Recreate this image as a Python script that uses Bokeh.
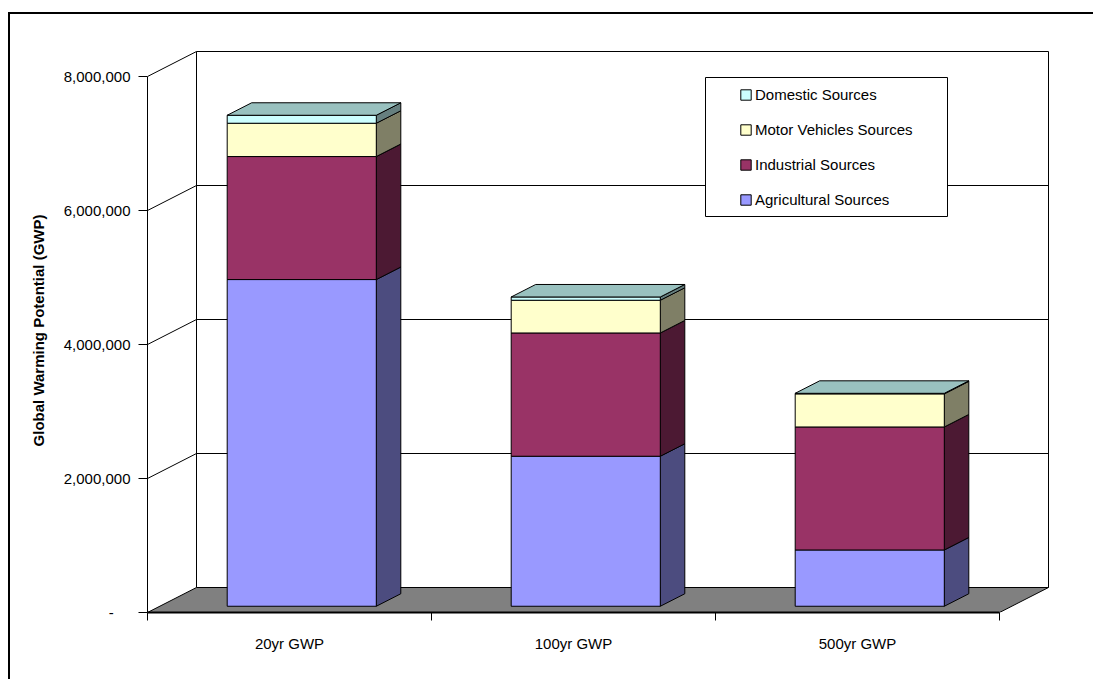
from bokeh.plotting import figure
from bokeh.models import (Range1d, FixedTicker, NumeralTickFormatter, Legend,
                          LegendItem, BoxAnnotation, ColumnDataSource, InlineStyleSheet)
from bokeh.embed import file_html
from bokeh.resources import INLINE

# ---------------- data ----------------
categories = ["20yr GWP", "100yr GWP", "500yr GWP"]
series_names = ["Agricultural Sources", "Industrial Sources",
                "Motor Vehicles Sources", "Domestic Sources"]
agricultural = [4876000, 2239000, 840000]
industrial = [1836000, 1840000, 1836000]
motor_vehicles = [497000, 488000, 494000]
domestic = [119000, 49000, 8000]
y_ticks = [0, 2000000, 4000000, 6000000, 8000000]
y_label = "Global Warming Potential (GWP)"

# ---------------- style ----------------
front_colors = ["#9999FF", "#993366", "#FFFFCC", "#CCFFFF"]
side_colors = ["#4C4C7F", "#4C1933", "#7F7F66", "#667F7F"]
top_color = "#99C1BF"
FONT = "Liberation Sans"

n = len(categories)
Y_MAX = y_ticks[-1]
PX_X = 284.0          # px per category
PX_Y = 67.0 / 1e6     # px per unit value
DX = 49 / PX_X        # depth offset (category units)
DY = 25 / PX_Y        # depth offset (value units)
BAR_W = 0.525
FRAME_W, FRAME_H = 903, 564

p = figure(width=1093, height=679,
           x_range=Range1d(0, FRAME_W / PX_X), y_range=Range1d(0, FRAME_H / PX_Y),
           output_backend="svg", toolbar_location=None,
           min_border_left=147, min_border_right=1093 - 147 - FRAME_W,
           min_border_top=48, min_border_bottom=679 - 48 - FRAME_H)
p.xgrid.visible = False
p.ygrid.visible = False
p.outline_line_color = None
p.background_fill_color = "white"
p.border_fill_color = "white"

# floor
p.patch([0, n, n + DX, DX], [0, 0, DY, DY], fill_color="#808080",
        line_color="black", line_width=1)

# back wall gridlines and edges
grid_vals = y_ticks[1:-1]
p.segment(x0=[DX] * len(grid_vals), y0=[v + DY for v in grid_vals],
          x1=[n + DX] * len(grid_vals), y1=[v + DY for v in grid_vals],
          line_color="black", line_width=1)
p.segment(x0=[DX, n + DX, DX], y0=[DY, DY, Y_MAX + DY],
          x1=[DX, n + DX, n + DX], y1=[Y_MAX + DY, Y_MAX + DY, Y_MAX + DY],
          line_color="black", line_width=1)
# side wall diagonals
diag = y_ticks[1:]
p.segment(x0=[0] * len(diag), y0=diag, x1=[DX] * len(diag),
          y1=[v + DY for v in diag], line_color="black", line_width=1)

# bars
series = [agricultural, industrial, motor_vehicles, domestic]
centers = [i + 0.5 + 0.25 * DX for i in range(n)]
lefts = [c - BAR_W / 2 for c in centers]
rights = [c + BAR_W / 2 for c in centers]
bottoms = [0] * n
front_renderers = []
for s, vals in enumerate(series):
    tops = [b + v for b, v in zip(bottoms, vals)]
    fb = [b + 0.25 * DY for b in bottoms]
    ft = [t + 0.25 * DY for t in tops]
    # side faces
    xs = [[r, r + 0.5 * DX, r + 0.5 * DX, r] for r in rights]
    ys = [[b, b + 0.5 * DY, t + 0.5 * DY, t] for b, t in zip(fb, ft)]
    p.patches(xs, ys, fill_color=side_colors[s], line_color="black", line_width=1)
    src = ColumnDataSource(dict(left=lefts, right=rights, bottom=fb, top=ft))
    r = p.quad(left="left", right="right", bottom="bottom", top="top", source=src,
               fill_color=front_colors[s], line_color="black", line_width=1)
    front_renderers.append(r)
    bottoms = tops

# top faces
ftop = [t + 0.25 * DY for t in bottoms]
xs = [[l, r, r + 0.5 * DX, l + 0.5 * DX] for l, r in zip(lefts, rights)]
ys = [[t, t, t + 0.5 * DY, t + 0.5 * DY] for t in ftop]
p.patches(xs, ys, fill_color=top_color, line_color="black", line_width=1)

# axes
xa = p.xaxis[0]
xa.ticker = FixedTicker(ticks=[i + 0.5 for i in range(n)], minor_ticks=list(range(n + 1)))
xa.major_label_overrides = {i + 0.5: c for i, c in enumerate(categories)}
xa.bounds = (0, n)
xa.axis_line_color = "black"
xa.axis_line_width = 2
xa.major_tick_out = 0
xa.major_tick_in = 0
xa.minor_tick_out = 8
xa.minor_tick_in = 0
xa.minor_tick_line_color = "black"
xa.major_label_standoff = 14
xa.major_label_text_font = FONT
xa.major_label_text_font_size = "15px"
xa.major_label_text_color = "black"

ya = p.yaxis[0]
ya.ticker = FixedTicker(ticks=y_ticks)
ya.formatter = NumeralTickFormatter(format="0,0")
ya.major_label_overrides = {0: "-" + "\u00a0" * 4}
ya.bounds = (0, Y_MAX)
ya.axis_line_color = "black"
ya.axis_line_width = 1
ya.major_tick_out = 9
ya.major_tick_in = 0
ya.major_tick_line_color = "black"
ya.minor_tick_out = 0
ya.minor_tick_in = 0
ya.major_label_standoff = 8
ya.major_label_text_font = FONT
ya.major_label_text_font_size = "15px"
ya.major_label_text_color = "black"
ya.axis_label = y_label
ya.axis_label_text_font = FONT
ya.axis_label_text_font_size = "15px"
ya.axis_label_text_font_style = "bold"
ya.axis_label_text_color = "black"
ya.axis_label_standoff = 14

# legend
box = BoxAnnotation(left=558, right=800, bottom=396, top=535,
                    left_units="screen", right_units="screen",
                    top_units="screen", bottom_units="screen",
                    fill_color="white", fill_alpha=1.0,
                    line_color="black", line_width=1, line_alpha=1.0)
p.add_layout(box)
items = [LegendItem(label=series_names[s], renderers=[front_renderers[s]])
         for s in reversed(range(len(series)))]
legend = Legend(items=items, location=(592, 403), padding=0, margin=0,
                spacing=15, label_height=20, glyph_height=13, glyph_width=13,
                label_standoff=3, border_line_alpha=0, background_fill_alpha=0,
                label_text_font=FONT, label_text_font_size="15px",
                label_text_color="black")
p.add_layout(legend)

# outer chart border (left and top edges visible in the reference)
p.stylesheets.append(InlineStyleSheet(css=(
    ":host::after{content:'';position:absolute;left:8px;top:12px;"
    "width:1085px;height:667px;border-left:2px solid #000;border-top:2px solid #000;"
    "box-sizing:border-box;pointer-events:none;}")))

open("out.html", "w").write(file_html(p, INLINE))
